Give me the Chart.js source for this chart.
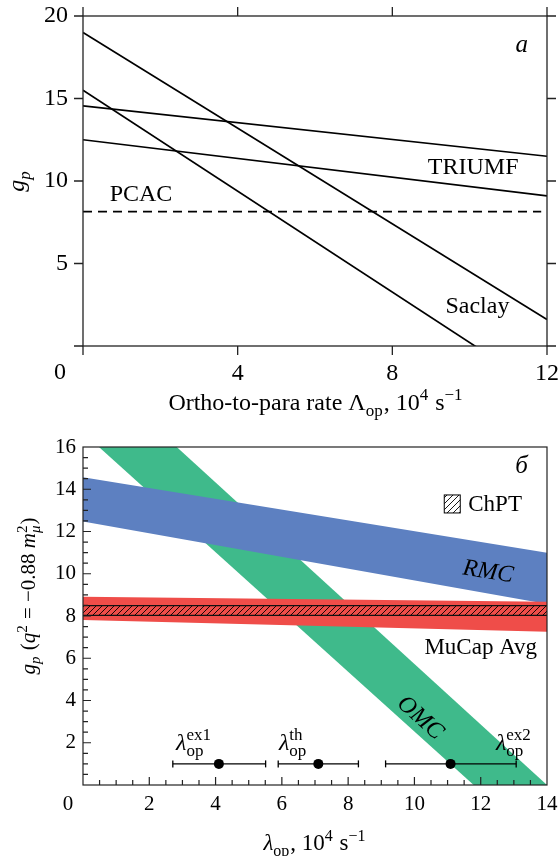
<!DOCTYPE html>
<html>
<head>
<meta charset="utf-8">
<script src="https://cdn.jsdelivr.net/npm/chart.js@4.4.0/dist/chart.umd.min.js"></script>
<style>
  html, body { margin: 0; padding: 0; background: #fff; }
  #wrap { position: relative; width: 560px; height: 856px; }
  canvas { position: absolute; left: 0; }
</style>
</head>
<body>
<div id="wrap">
  <canvas id="rateChart" width="560" height="420" style="top:0"></canvas>
  <canvas id="gpChart" width="560" height="436" style="top:420px"></canvas>
</div>
<script>
// panel a: g_p against ortho-to-para rate
var rateX = [0, 12];
var saclayHi = [19.0, 1.6];
var saclayLo = [15.5, -2.85];
var triumfHi = [14.55, 11.5];
var triumfLo = [12.5, 9.1];
var pcacX = [0, 11.85];
var pcac = [8.14, 8.14];

// panel b: bands and lambda_op values
var lamX = [0, 14];
var omcHi = [20.05, 0.0];
var omcLo = [16.68, -3.13];
var rmcHi = [14.57, 11.0];
var rmcLo = [12.47, 8.57];
var mucapHi = [8.91, 8.68];
var mucapLo = [7.81, 7.26];
var chptHi = [8.49, 8.49];
var chptLo = [8.03, 8.03];
var lamNames = ['ex1', 'th', 'ex2'];
var lamVal = [4.1, 7.1, 11.09];
var lamLo = [2.71, 5.89, 9.13];
var lamHi = [5.51, 8.31, 13.07];
var lamG = [1, 1, 1];

var serif = '"Liberation Serif", "Times New Roman", serif';

function fnt(sz, it) {
  return (it ? 'italic ' : '') + sz + 'px ' + serif;
}

function pts(xs, ys) {
  return xs.map(function (x, i) { return {x: x, y: ys[i]}; });
}

// text with sub/superscripts, drawn on the baseline y
function drawRich(ctx, segs, x, y, sz, align) {
  var sm = Math.round(sz * 0.7);
  var items = segs.map(function (s) {
    var it = {s: s, w: 0};
    if (s.t != null) {
      ctx.font = fnt(sz, s.i);
      it.w = ctx.measureText(s.t).width;
    } else {
      var wb = 0, wp = 0;
      if (s.b != null) { ctx.font = fnt(sm, s.bi); wb = ctx.measureText(s.b).width; }
      if (s.p != null) { ctx.font = fnt(sm, s.pi); wp = ctx.measureText(s.p).width; }
      it.w = Math.max(wb, wp) + 1;
    }
    return it;
  });
  var total = items.reduce(function (a, it) { return a + it.w; }, 0);
  var cx = align === 'center' ? x - total / 2 : (align === 'right' ? x - total : x);
  ctx.textAlign = 'left';
  ctx.textBaseline = 'alphabetic';
  items.forEach(function (it) {
    var s = it.s;
    if (s.t != null) {
      ctx.font = fnt(sz, s.i);
      ctx.fillText(s.t, cx, y);
    } else {
      if (s.b != null) { ctx.font = fnt(sm, s.bi); ctx.fillText(s.b, cx, y + sz * 0.25); }
      if (s.p != null) { ctx.font = fnt(sm, s.pi); ctx.fillText(s.p, cx, y - sz * 0.4); }
    }
    cx += it.w;
  });
}

function label(ctx, txt, x, y, sz, it, rot) {
  ctx.save();
  ctx.translate(x, y);
  if (rot) ctx.rotate(rot * Math.PI / 180);
  ctx.font = fnt(sz, it);
  ctx.textAlign = 'center';
  ctx.textBaseline = 'middle';
  ctx.fillText(txt, 0, 0);
  ctx.restore();
}

function hatch(bg) {
  var c = document.createElement('canvas');
  c.width = 6; c.height = 6;
  var g = c.getContext('2d');
  if (bg) { g.fillStyle = bg; g.fillRect(0, 0, 6, 6); }
  g.strokeStyle = '#000';
  g.lineWidth = 0.9;
  g.beginPath();
  g.moveTo(0, 6); g.lineTo(6, 0);
  g.moveTo(-1, 1); g.lineTo(1, -1);
  g.moveTo(5, 7); g.lineTo(7, 5);
  g.stroke();
  return g.createPattern(c, 'repeat');
}

function line(data, dash) {
  return {
    data: data, borderColor: '#000', borderWidth: 1.7, borderDash: dash || [],
    pointRadius: 0, fill: false, tension: 0
  };
}

function tickOpts(step, pad, size) {
  return {
    stepSize: step, padding: pad, color: '#000', maxRotation: 0, autoSkip: false,
    font: {family: serif, size: size},
    callback: function (v) { return v === 0 ? '' : v; }
  };
}

// fixed axis sizes, no extra label overhang padding
function fixSize(w, h) {
  return function (s) {
    if (w) s.width = w;
    if (h) s.height = h;
    s.paddingLeft = 0; s.paddingRight = 0; s.paddingTop = 0; s.paddingBottom = 0;
  };
}

// ---------- panel a ----------
var ratePlugin = {
  id: 'rateFrame',
  afterDraw: function (chart) {
    var ctx = chart.ctx, a = chart.chartArea;
    var xs = chart.scales.x, ys = chart.scales.y;
    ctx.save();
    ctx.strokeStyle = '#222';
    ctx.lineWidth = 1.3;
    ctx.strokeRect(a.left, a.top, a.right - a.left, a.bottom - a.top);
    ctx.beginPath();
    xs.ticks.forEach(function (t) {
      var px = xs.getPixelForValue(t.value);
      ctx.moveTo(px, a.bottom); ctx.lineTo(px, a.bottom + 9);
      ctx.moveTo(px, a.top); ctx.lineTo(px, a.top - 9);
    });
    ys.ticks.forEach(function (t) {
      var py = ys.getPixelForValue(t.value);
      ctx.moveTo(a.left - 9, py); ctx.lineTo(a.left, py);
      ctx.moveTo(a.right, py); ctx.lineTo(a.right + 9, py);
    });
    ctx.stroke();

    ctx.fillStyle = '#000';
    label(ctx, '0', xs.getPixelForValue(0) - 23, a.bottom + 27, 24, false);
    label(ctx, 'a', xs.getPixelForValue(11.35), ys.getPixelForValue(18.2), 25, true);
    label(ctx, 'TRIUMF', xs.getPixelForValue(10.09), ys.getPixelForValue(10.8), 24, false);
    label(ctx, 'PCAC', xs.getPixelForValue(1.5), ys.getPixelForValue(9.15), 24, false);
    label(ctx, 'Saclay', xs.getPixelForValue(10.2), ys.getPixelForValue(2.38), 24, false);

    drawRich(ctx, [{t: 'Ortho-to-para rate Λ'}, {b: 'op'}, {t: ', 10'}, {p: '4'}, {t: ' s'}, {p: '−1'}],
      (a.left + a.right) / 2 + 1, 410, 24, 'center');

    ctx.translate(24, (a.top + a.bottom) / 2);
    ctx.rotate(-Math.PI / 2);
    drawRich(ctx, [{t: 'g', i: true}, {b: 'p', bi: true}], 0, 0, 24, 'center');
    ctx.restore();
  }
};

new Chart(document.getElementById('rateChart'), {
  type: 'line',
  data: {
    datasets: [
      line(pts(rateX, saclayHi)),
      line(pts(rateX, saclayLo)),
      line(pts(rateX, triumfHi)),
      line(pts(rateX, triumfLo)),
      line(pts(pcacX, pcac), [9, 6])
    ]
  },
  options: {
    responsive: false, animation: false, events: [],
    layout: {padding: {top: 16, right: 13, left: 0, bottom: 0}},
    plugins: {legend: {display: false}, tooltip: {enabled: false}},
    scales: {
      x: {
        type: 'linear', min: 0, max: 12,
        afterFit: fixSize(0, 74),
        grid: {display: false, drawTicks: false}, border: {display: false},
        ticks: tickOpts(4, 13, 24)
      },
      y: {
        type: 'linear', min: 0, max: 20,
        afterFit: fixSize(83, 0),
        grid: {display: false, drawTicks: false}, border: {display: false},
        ticks: tickOpts(5, 15, 24)
      }
    }
  },
  plugins: [ratePlugin]
});

// ---------- panel b ----------
var gpPlugin = {
  id: 'gpFrame',
  afterDraw: function (chart) {
    var ctx = chart.ctx, a = chart.chartArea;
    var xs = chart.scales.x, ys = chart.scales.y;
    var v;
    ctx.save();
    ctx.strokeStyle = '#222';
    ctx.lineWidth = 1.2;
    ctx.strokeRect(a.left, a.top, a.right - a.left, a.bottom - a.top);
    ctx.beginPath();
    for (v = 0.5; v < 14; v += 0.5) {
      var px = xs.getPixelForValue(v);
      var lx = (v % 2 === 0) ? 8 : 5;
      ctx.moveTo(px, a.bottom); ctx.lineTo(px, a.bottom - lx);
    }
    for (v = 0.5; v < 16; v += 0.5) {
      var py = ys.getPixelForValue(v);
      var ly = (v % 2 === 0) ? 8 : 5;
      ctx.moveTo(a.left, py); ctx.lineTo(a.left + ly, py);
    }
    ctx.stroke();

    ctx.fillStyle = '#000';
    label(ctx, '0', xs.getPixelForValue(0) - 15, a.bottom + 19, 21, false);
    label(ctx, 'б', xs.getPixelForValue(13.23), ys.getPixelForValue(15.07), 25, true);

    // ChPT legend box
    var bx = xs.getPixelForValue(10.9), by = ys.getPixelForValue(13.73);
    ctx.fillStyle = hatch('#fff');
    ctx.fillRect(bx, by, 16, 18);
    ctx.strokeStyle = '#000';
    ctx.lineWidth = 1;
    ctx.strokeRect(bx, by, 16, 18);
    ctx.fillStyle = '#000';
    ctx.font = fnt(23, false);
    ctx.textAlign = 'left';
    ctx.textBaseline = 'middle';
    ctx.fillText('ChPT', bx + 24, by + 10);

    label(ctx, 'RMC', xs.getPixelForValue(12.22), ys.getPixelForValue(10.08), 24, true, 9);
    label(ctx, 'MuCap Avg', xs.getPixelForValue(12.0), ys.getPixelForValue(6.49), 23, false);
    label(ctx, 'OMC', xs.getPixelForValue(10.17), ys.getPixelForValue(3.17), 24, true, 42);

    var lamLabelX = [3.35, 6.34, 13.0];
    lamNames.forEach(function (n, i) {
      drawRich(ctx, [{t: 'λ', i: true}, {b: 'op', p: n}],
        xs.getPixelForValue(lamLabelX[i]), ys.getPixelForValue(1.66), 24, 'center');
    });

    drawRich(ctx, [{t: 'λ', i: true}, {b: 'op'}, {t: ', 10'}, {p: '4'}, {t: ' s'}, {p: '−1'}],
      (a.left + a.right) / 2, 430, 23, 'center');

    ctx.translate(35, 176);
    ctx.rotate(-Math.PI / 2);
    drawRich(ctx, [{t: 'g', i: true}, {b: 'p', bi: true}, {t: ' ('}, {t: 'q', i: true}, {p: '2'},
      {t: ' = −0.88 '}, {t: 'm', i: true}, {b: 'μ', bi: true, p: '2'}, {t: ')'}], 0, 0, 21, 'center');
    ctx.restore();
  }
};

function band(data, color, order, fillTo) {
  return {
    data: data, borderColor: 'transparent', borderWidth: 0, backgroundColor: color,
    pointRadius: 0, tension: 0, fill: fillTo ? '+1' : false, order: order
  };
}

var gpSets = [
  band(pts(lamX, omcHi), '#3fba8b', 9, true),
  band(pts(lamX, omcLo), '#3fba8b', 9, false),
  band(pts(lamX, rmcHi), '#5d80c1', 7, true),
  band(pts(lamX, rmcLo), '#5d80c1', 7, false),
  band(pts(lamX, mucapHi), '#ef4d49', 5, true),
  band(pts(lamX, mucapLo), '#ef4d49', 5, false),
  {
    data: pts(lamX, chptHi), borderColor: '#111', borderWidth: 1.3, backgroundColor: hatch(null),
    pointRadius: 0, tension: 0, fill: '+1', order: 3
  },
  {
    data: pts(lamX, chptLo), borderColor: '#111', borderWidth: 1.3,
    pointRadius: 0, tension: 0, fill: false, order: 3
  }
];
lamNames.forEach(function (n, i) {
  gpSets.push({
    data: [{x: lamLo[i], y: lamG[i]}, {x: lamHi[i], y: lamG[i]}],
    borderColor: '#000', borderWidth: 1.3, fill: false, tension: 0,
    pointStyle: 'line', pointRotation: 90, pointRadius: 3.5,
    pointBorderColor: '#000', pointBorderWidth: 1.3, order: 2
  });
});
gpSets.push({
  data: pts(lamVal, lamG), showLine: false, pointStyle: 'circle', pointRadius: 5,
  pointBackgroundColor: '#000', pointBorderColor: '#000', pointBorderWidth: 0, order: 1
});

new Chart(document.getElementById('gpChart'), {
  type: 'line',
  data: {datasets: gpSets},
  options: {
    responsive: false, animation: false, events: [],
    layout: {padding: {top: 27, right: 13, left: 0, bottom: 0}},
    plugins: {legend: {display: false}, tooltip: {enabled: false}},
    scales: {
      x: {
        type: 'linear', min: 0, max: 14,
        afterFit: fixSize(0, 71),
        grid: {display: false, drawTicks: false}, border: {display: false},
        ticks: tickOpts(2, 7, 21)
      },
      y: {
        type: 'linear', min: 0, max: 16,
        afterFit: fixSize(83, 0),
        grid: {display: false, drawTicks: false}, border: {display: false},
        ticks: tickOpts(2, 7, 21)
      }
    }
  },
  plugins: [gpPlugin]
});
</script>
</body>
</html>
